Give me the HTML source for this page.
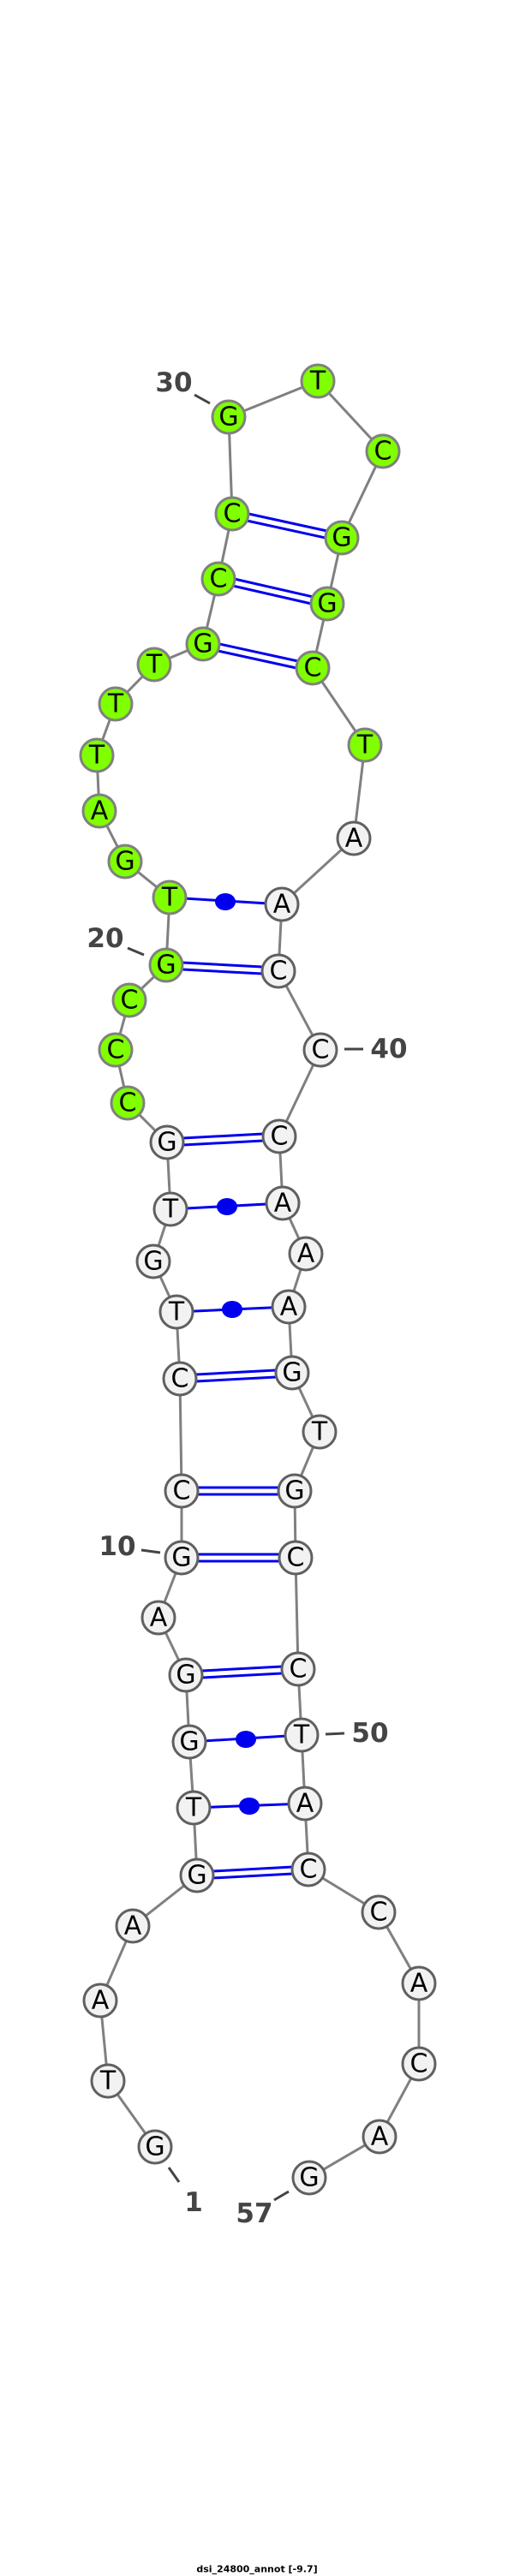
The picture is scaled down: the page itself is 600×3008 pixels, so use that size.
<!DOCTYPE html>
<html><head><meta charset="utf-8"><style>
html,body{margin:0;padding:0;background:#fff;}
svg{display:block;}
.n text{font-family:"DejaVu Sans","Liberation Sans",sans-serif;font-size:30px;text-anchor:middle;dominant-baseline:central;fill:#000;}
.lab{font-family:"DejaVu Sans","Liberation Sans",sans-serif;font-weight:bold;font-size:31px;fill:#444;text-anchor:middle;dominant-baseline:central;}
</style></head><body>
<svg width="600" height="3008" viewBox="0 0 600 3008" xmlns="http://www.w3.org/2000/svg">
<!-- backbone -->
<polyline fill="none" stroke="#808080" stroke-width="3" points="181,2507 126,2430 117,2336 155,2249 230,2190 226,2111 221,2034 217,1956 185,1889 212,1819 212,1741 210,1610 206,1532 179,1473 199,1412 195,1334 149,1288 135,1226 151,1168 194,1127 198,1048 146,1006 116,947 113,882 135,822 180,776 237,752 255,676 271,600 267,487 371,445 447,527 399,628 382,705 365,780 426,870 413,979 329,1056 325,1134 374,1226 326,1327 330,1405 357,1464 337,1526 341,1603 373,1672 344,1741 345,1819 348,1949 352,2026 356,2106 360,2183 442,2233 489,2316 489,2410 443,2495 361,2543"/>
<!-- double pairs -->
<g stroke="#0000ee" stroke-width="3">
<line x1="230" y1="2186" x2="360" y2="2179"/><line x1="230" y1="2194" x2="360" y2="2187"/>
<line x1="217" y1="1952" x2="348" y2="1945"/><line x1="217" y1="1960" x2="348" y2="1953"/>
<line x1="212" y1="1815" x2="345" y2="1815"/><line x1="212" y1="1823" x2="345" y2="1823"/>
<line x1="212" y1="1737" x2="344" y2="1737"/><line x1="212" y1="1745" x2="344" y2="1745"/>
<line x1="210" y1="1606" x2="341" y2="1599"/><line x1="210" y1="1614" x2="341" y2="1607"/>
<line x1="195" y1="1330" x2="326" y2="1323"/><line x1="195" y1="1338" x2="326" y2="1331"/>
<line x1="194" y1="1123" x2="325" y2="1130"/><line x1="194" y1="1131" x2="325" y2="1138"/>
<line x1="238" y1="748" x2="366" y2="776"/><line x1="236" y1="756" x2="364" y2="784"/>
<line x1="256" y1="672" x2="383" y2="701"/><line x1="254" y1="680" x2="381" y2="709"/>
<line x1="272" y1="596" x2="400" y2="624"/><line x1="270" y1="604" x2="398" y2="632"/>
</g>
<!-- single pairs with dots -->
<g stroke="#0000ee" stroke-width="3">
<line x1="226" y1="2111" x2="356" y2="2106"/>
<line x1="221" y1="2034" x2="352" y2="2026"/>
<line x1="206" y1="1532" x2="337" y2="1526"/>
<line x1="199" y1="1412" x2="330" y2="1405"/>
<line x1="198" y1="1048" x2="329" y2="1056"/>
</g>
<g fill="#0000ee">
<ellipse cx="291" cy="2109" rx="12" ry="10"/>
<ellipse cx="287" cy="2031" rx="12" ry="10"/>
<ellipse cx="271" cy="1529" rx="12" ry="10"/>
<ellipse cx="265" cy="1409" rx="12" ry="10"/>
<ellipse cx="263" cy="1053" rx="12" ry="10"/>
</g>
<!-- ticks -->
<g stroke="#444" stroke-width="3">
<line x1="227" y1="461" x2="245" y2="471"/>
<line x1="149" y1="1107" x2="168" y2="1115"/>
<line x1="402" y1="1225" x2="424" y2="1225"/>
<line x1="165" y1="1810" x2="187" y2="1813"/>
<line x1="380" y1="2025" x2="402" y2="2024"/>
<line x1="197" y1="2531" x2="209" y2="2548"/>
<line x1="320" y1="2569" x2="337" y2="2559"/>
</g>
<text class="lab" x="203" y="447">30</text>
<text class="lab" x="123" y="1096">20</text>
<text class="lab" x="454" y="1225">40</text>
<text class="lab" x="137" y="1806">10</text>
<text class="lab" x="432" y="2024">50</text>
<text class="lab" x="226" y="2572">1</text>
<text class="lab" x="297" y="2585">57</text>
<!-- white nodes -->
<g class="n">
<g fill="#f2f2f2" stroke="#606060" stroke-width="3">
<circle cx="181" cy="2507" r="19"/><circle cx="126" cy="2430" r="19"/><circle cx="117" cy="2336" r="19"/><circle cx="155" cy="2249" r="19"/><circle cx="230" cy="2190" r="19"/><circle cx="226" cy="2111" r="19"/><circle cx="221" cy="2034" r="19"/><circle cx="217" cy="1956" r="19"/><circle cx="185" cy="1889" r="19"/><circle cx="212" cy="1819" r="19"/><circle cx="212" cy="1741" r="19"/><circle cx="210" cy="1610" r="19"/><circle cx="206" cy="1532" r="19"/><circle cx="179" cy="1473" r="19"/><circle cx="199" cy="1412" r="19"/><circle cx="195" cy="1334" r="19"/>
<circle cx="413" cy="979" r="19"/><circle cx="329" cy="1056" r="19"/><circle cx="325" cy="1134" r="19"/><circle cx="374" cy="1226" r="19"/><circle cx="326" cy="1327" r="19"/><circle cx="330" cy="1405" r="19"/><circle cx="357" cy="1464" r="19"/><circle cx="337" cy="1526" r="19"/><circle cx="341" cy="1603" r="19"/><circle cx="373" cy="1672" r="19"/><circle cx="344" cy="1741" r="19"/><circle cx="345" cy="1819" r="19"/><circle cx="348" cy="1949" r="19"/><circle cx="352" cy="2026" r="19"/><circle cx="356" cy="2106" r="19"/><circle cx="360" cy="2183" r="19"/><circle cx="442" cy="2233" r="19"/><circle cx="489" cy="2316" r="19"/><circle cx="489" cy="2410" r="19"/><circle cx="443" cy="2495" r="19"/><circle cx="361" cy="2543" r="19"/>
</g>
<g fill="#7fff00" stroke="#808080" stroke-width="3">
<circle cx="149" cy="1288" r="19"/><circle cx="135" cy="1226" r="19"/><circle cx="151" cy="1168" r="19"/><circle cx="194" cy="1127" r="19"/><circle cx="198" cy="1048" r="19"/><circle cx="146" cy="1006" r="19"/><circle cx="116" cy="947" r="19"/><circle cx="113" cy="882" r="19"/><circle cx="135" cy="822" r="19"/><circle cx="180" cy="776" r="19"/><circle cx="237" cy="752" r="19"/><circle cx="255" cy="676" r="19"/><circle cx="271" cy="600" r="19"/><circle cx="267" cy="487" r="19"/><circle cx="371" cy="445" r="19"/><circle cx="447" cy="527" r="19"/><circle cx="399" cy="628" r="19"/><circle cx="382" cy="705" r="19"/><circle cx="365" cy="780" r="19"/><circle cx="426" cy="870" r="19"/>
</g>
<text x="181" y="2507">G</text><text x="126" y="2430">T</text><text x="117" y="2336">A</text><text x="155" y="2249">A</text><text x="230" y="2190">G</text><text x="226" y="2111">T</text><text x="221" y="2034">G</text><text x="217" y="1956">G</text><text x="185" y="1889">A</text><text x="212" y="1819">G</text><text x="212" y="1741">C</text><text x="210" y="1610">C</text><text x="206" y="1532">T</text><text x="179" y="1473">G</text><text x="199" y="1412">T</text><text x="195" y="1334">G</text><text x="149" y="1288">C</text><text x="135" y="1226">C</text><text x="151" y="1168">C</text><text x="194" y="1127">G</text><text x="198" y="1048">T</text><text x="146" y="1006">G</text><text x="116" y="947">A</text><text x="113" y="882">T</text><text x="135" y="822">T</text><text x="180" y="776">T</text><text x="237" y="752">G</text><text x="255" y="676">C</text><text x="271" y="600">C</text><text x="267" y="487">G</text><text x="371" y="445">T</text><text x="447" y="527">C</text><text x="399" y="628">G</text><text x="382" y="705">G</text><text x="365" y="780">C</text><text x="426" y="870">T</text><text x="413" y="979">A</text><text x="329" y="1056">A</text><text x="325" y="1134">C</text><text x="374" y="1226">C</text><text x="326" y="1327">C</text><text x="330" y="1405">A</text><text x="357" y="1464">A</text><text x="337" y="1526">A</text><text x="341" y="1603">G</text><text x="373" y="1672">T</text><text x="344" y="1741">G</text><text x="345" y="1819">C</text><text x="348" y="1949">C</text><text x="352" y="2026">T</text><text x="356" y="2106">A</text><text x="360" y="2183">C</text><text x="442" y="2233">C</text><text x="489" y="2316">A</text><text x="489" y="2410">C</text><text x="443" y="2495">A</text><text x="361" y="2543">G</text>
</g>
<text x="300" y="3000" font-family="'DejaVu Sans','Liberation Sans',sans-serif" font-weight="bold" font-size="11" text-anchor="middle" dominant-baseline="central" fill="#000">dsi_24800_annot [-9.7]</text>
</svg>
</body></html>
